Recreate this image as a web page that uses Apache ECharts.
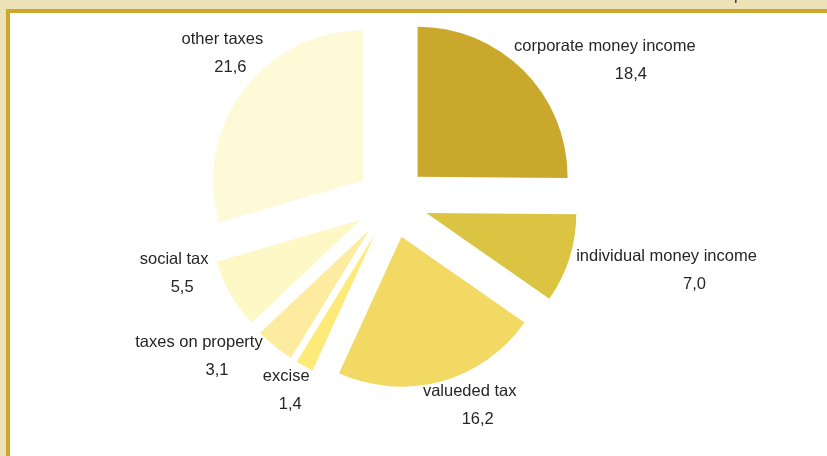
<!DOCTYPE html>
<html>
<head>
<meta charset="utf-8">
<title>tax revenue structure</title>
<script src="https://cdn.jsdelivr.net/npm/echarts@6/dist/echarts.min.js"></script>
<style>
  html, body { margin: 0; padding: 0; background: #ede1b7; }
  #frame {
    position: absolute; left: 6px; top: 9px; width: 817px; height: 443px;
    background: #fff; border-left: 4px solid #cca92d; border-top: 4px solid #cca92d;
  }
  #chart { position: absolute; left: 0; top: 0; width: 827px; height: 456px; }
</style>
</head>
<body>
<div id="frame"></div>
<div id="chart"></div>
<script>
// clockwise from 12 o'clock
const categories = ['corporate money income', 'individual money income', 'valueded tax', 'excise', 'taxes on property', 'social tax', 'other taxes']
const values = [18.4, 7.0, 16.2, 1.4, 3.1, 5.5, 21.6]
const colors = ['#c9a82c', '#dcc443', '#f2d963', '#fdea78', '#fdeba0', '#fef8c7', '#fef9d7']

// label tweaks (px), relative to where echarts puts an outside label
const labelNudge = [[-10, -11], [7, 12], [-18, 24], [5, 24], [-12, 10], [-22, -21], [20, -37]]
const valueShift = [26, 28, 8, 4, 18, 8, 8]

const rich = {
  n: { fontSize: 16.5, lineHeight: 28, align: 'center', color: '#262626', fontFamily: 'Liberation Sans' }
}
valueShift.forEach((s, i) => {
  rich['v' + i] = { fontSize: 16.5, lineHeight: 28, align: 'center', color: '#262626', fontFamily: 'Liberation Sans', padding: [0, 0, 0, 2 * s] }
})

const chart = echarts.init(document.getElementById('chart'))
chart.setOption({
  animation: false,
  graphic: [{
    type: 'text',
    x: 734,
    y: 4,
    style: { text: 'p', fill: '#333', font: '16px "Liberation Sans"', verticalAlign: 'bottom' }
  }],
  series: [{
    type: 'pie',
    center: [392, 202],
    radius: 150,
    startAngle: 90,
    clockwise: true,
    selectedMode: 'multiple',
    selectedOffset: 36,
    avoidLabelOverlap: false,
    emphasis: { disabled: true, scale: false },
    select: { itemStyle: { borderWidth: 0 } },
    label: {
      position: 'outside',
      distanceToLabelLine: 0,
      color: '#262626',
      fontFamily: 'Liberation Sans',
      fontSize: 16.5,
      formatter(p) {
        return '{n|' + p.name + '}\n{v' + p.dataIndex + '|' + p.value.toFixed(1).replace('.', ',') + '}'
      },
      rich: rich
    },
    labelLine: { show: false, length: 0, length2: 0 },
    labelLayout(p) {
      return { dx: labelNudge[p.dataIndex][0], dy: labelNudge[p.dataIndex][1] }
    },
    data: categories.map((name, i) => ({
      name: name,
      value: values[i],
      selected: true,
      itemStyle: { color: colors[i] }
    }))
  }]
})
</script>
</body>
</html>
